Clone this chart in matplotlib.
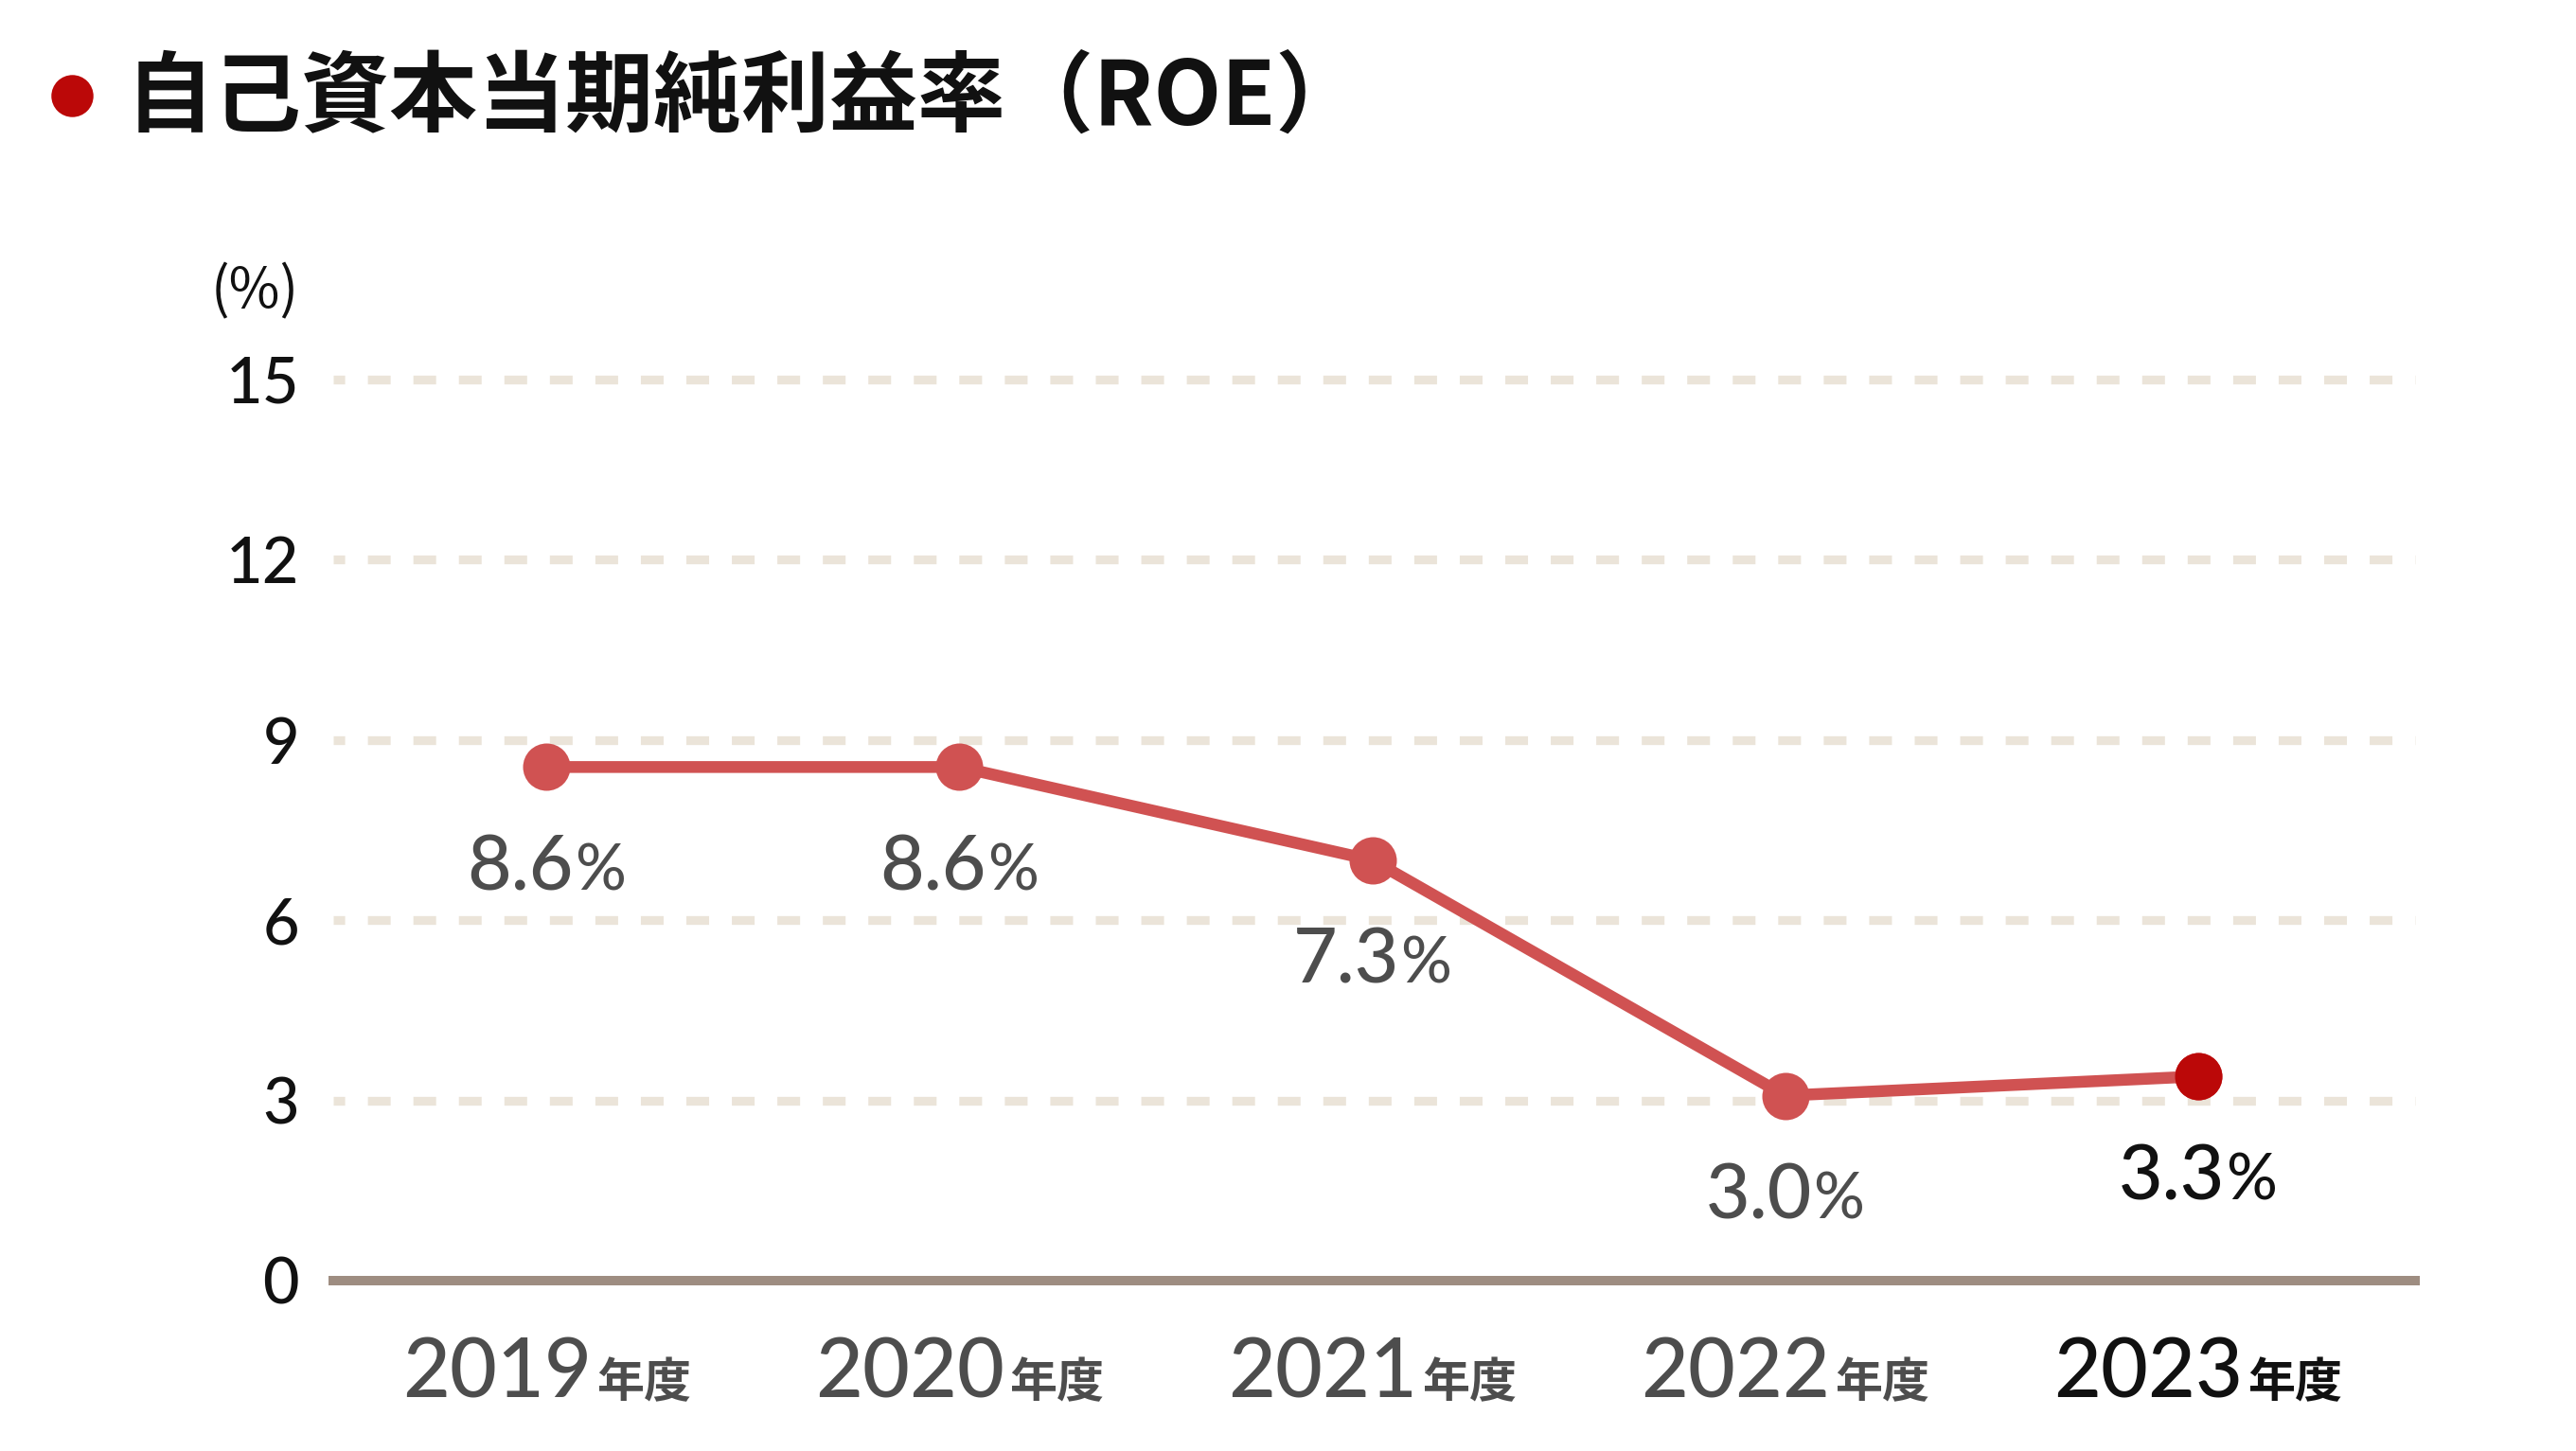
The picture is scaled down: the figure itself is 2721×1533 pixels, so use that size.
import matplotlib
matplotlib.use("Agg")
import matplotlib.pyplot as plt
from matplotlib.lines import Line2D
from matplotlib.offsetbox import AnnotationBbox, HPacker, TextArea

years = ["2019", "2020", "2021", "2022", "2023"]
year_suffix = "年度"
# marker heights as drawn in the reference
roe_plotted = [8.55, 8.55, 7.0, 3.08, 3.4]
roe_labels = ["8.6", "8.6", "7.3", "3.0", "3.3"]
y_ticks = [0, 3, 6, 9, 12, 15]

LINE_RED = "#d05252"
DOT_RED = "#bb0808"
GRID = "#ebe4d9"
BASE = "#9e8d81"
GRAY = "#4d4d4d"
BLACK = "#111111"
NUM_FONT = ["Lato", "DejaVu Sans"]
JP_FONT = ["Noto Sans CJK JP", "DejaVu Sans"]

plt.rcParams["lines.scale_dashes"] = False

fig = plt.figure(figsize=(27.21, 15.33), dpi=100)
W, H = 2721, 1533
ax = fig.add_axes([352 / W, 1 - 1353 / H, (2551 - 352) / W, (1353 - 401) / H])
ax.set_xlim(-0.517, 4.526)
ax.set_ylim(0, 15)

for s in ax.spines.values():
    s.set_visible(False)

for t in y_ticks[1:]:
    ax.axhline(t, color=GRID, lw=6.7, ls=(8.6, (17.3, 17.3)),
               solid_capstyle="butt", dash_capstyle="butt", clip_on=False, zorder=1)
ax.axhline(0, color=BASE, lw=7.2, clip_on=False, zorder=2)

x = list(range(len(years)))
ax.plot(x, roe_plotted, color=LINE_RED, lw=9, marker="o", ms=36,
        mec="none", clip_on=False, zorder=3)
ax.plot(x[-1], roe_plotted[-1], color=DOT_RED, marker="o", ms=36,
        mec="none", clip_on=False, zorder=4)

ax.set_xticks([])
ax.set_yticks(y_ticks)
ax.set_yticklabels([str(t) for t in y_ticks], fontsize=48, family=NUM_FONT,
                   color=BLACK, weight="medium")
ax.tick_params(axis="y", length=0, pad=26)


def mixed_label(big, small, color, big_size, small_size, small_font, sep):
    parts = [
        TextArea(big, textprops=dict(fontsize=big_size, family=NUM_FONT,
                                     color=color, weight="medium")),
        TextArea(small, textprops=dict(fontsize=small_size, family=small_font, color=color,
                                       weight="bold" if small_font is JP_FONT else "medium")),
    ]
    return HPacker(children=parts, align="baseline", pad=0, sep=sep)


for i, (v, lab) in enumerate(zip(roe_plotted, roe_labels)):
    col = BLACK if i == len(years) - 1 else GRAY
    box = mixed_label(lab, "%", col, 58, 48, NUM_FONT, 1)
    ab = AnnotationBbox(box, (i, v), xybox=(0, -77), xycoords="data",
                        boxcoords="offset points", frameon=False,
                        box_alignment=(0.5, 0.5), annotation_clip=False)
    ax.add_artist(ab)

for i, yr in enumerate(years):
    col = BLACK if i == len(years) - 1 else GRAY
    box = mixed_label(yr, year_suffix, col, 62, 36, JP_FONT, 4)
    ab = AnnotationBbox(box, (i, 0), xybox=(0, -71), xycoords="data",
                        boxcoords="offset points", frameon=False,
                        box_alignment=(0.5, 0.5), annotation_clip=False)
    ax.add_artist(ab)

# title with red bullet
fig.add_artist(Line2D([76 / W], [1 - 101 / H], marker="o", ms=32, color=DOT_RED,
                      mec="none", transform=fig.transFigure))
fig.text(133 / W, 1 - 104 / H, "自己資本当期純利益率（ROE）", fontsize=67,
         weight="bold", family=JP_FONT, ha="left", va="center", color=BLACK)

fig.text(269 / W, 1 - 309 / H, "(%)", fontsize=42, family=JP_FONT,
         ha="center", va="center", color=BLACK)

fig.savefig("out.png", dpi=100)
